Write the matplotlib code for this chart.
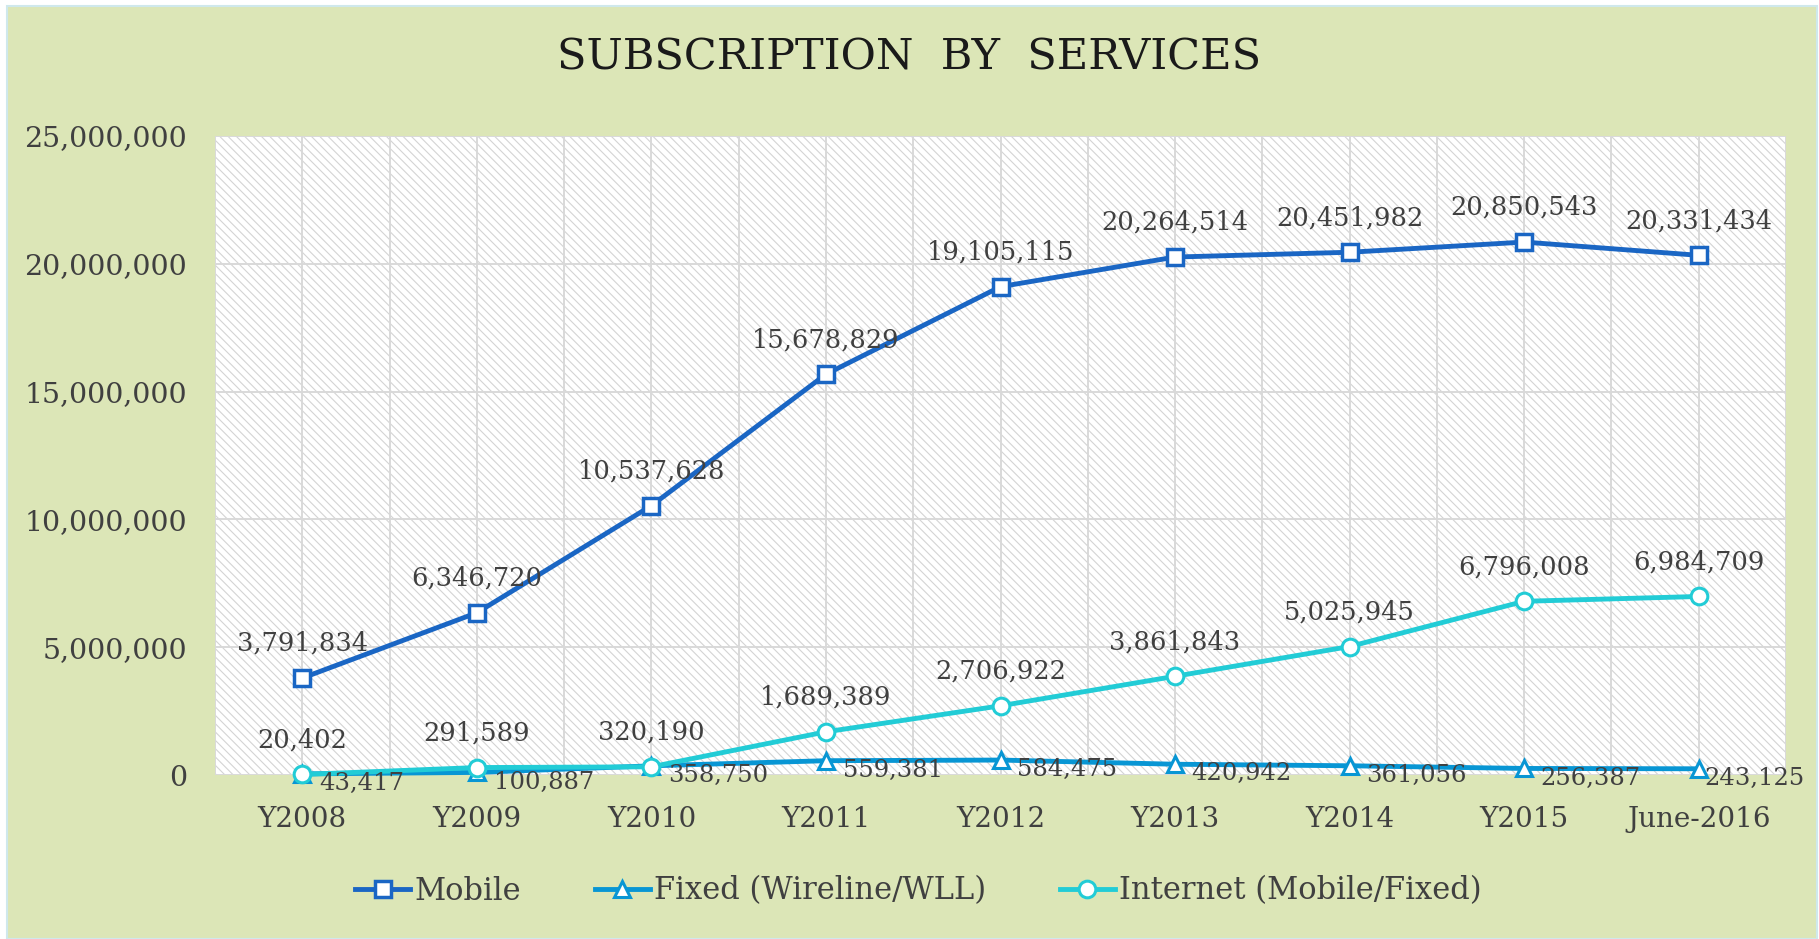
import matplotlib.pyplot as plt
import matplotlib.patches as mpatches
import numpy as np

# data
categories = ["Y2008", "Y2009", "Y2010", "Y2011", "Y2012", "Y2013", "Y2014", "Y2015", "June-2016"]
mobile = [3791834, 6346720, 10537628, 15678829, 19105115, 20264514, 20451982, 20850543, 20331434]
fixed = [43417, 100887, 358750, 559381, 584475, 420942, 361056, 256387, 243125]
internet = [20402, 291589, 320190, 1689389, 2706922, 3861843, 5025945, 6796008, 6984709]
yticks = [0, 5000000, 10000000, 15000000, 20000000, 25000000]

bg = "#dce6b7"
c_mobile = "#1a66c4"
c_fixed = "#0896d4"
c_internet = "#22ccd6"
txt = "#404040"

plt.rcParams['font.family'] = ['DejaVu Serif']
plt.rcParams['hatch.color'] = '#d4d4d4'
plt.rcParams['hatch.linewidth'] = 0.8
plt.rcParams['xtick.major.pad'] = 22
plt.rcParams['ytick.major.pad'] = 20
plt.rcParams['xtick.major.size'] = 0
plt.rcParams['ytick.major.size'] = 0

fig = plt.figure(figsize=(18.19, 9.39), dpi=100)
fig.patch.set_facecolor("white")
fig.patches.append(mpatches.Rectangle((0.004, 0.0), 0.995, 0.994, transform=fig.transFigure,
                                      facecolor=bg, edgecolor="#cfe8ec", linewidth=1.5, zorder=-10))

ax = fig.add_axes([215 / 1819, 1 - 775 / 939, (1786 - 215) / 1819, (775 - 136) / 939])
ax.set_facecolor("white")
ax.add_patch(mpatches.Rectangle((0, 0), 1, 1, transform=ax.transAxes, facecolor="white",
                                edgecolor="#d4d4d4", hatch="\\\\\\\\", linewidth=0, zorder=0))

x = np.arange(len(categories))
ax.set_xlim(-0.5, len(categories) - 0.5)
ax.set_ylim(0, 25000000)

for gx in np.arange(-0.5, len(categories), 0.5):
    ax.axvline(gx, color="#d9d9d9", linewidth=1.4, zorder=1)
for gy in yticks:
    ax.axhline(gy, color="#d9d9d9", linewidth=1.4, zorder=1)

ax.plot(x, fixed, color=c_fixed, linewidth=3.5, marker="^", markersize=11,
        markerfacecolor="white", markeredgecolor=c_fixed, markeredgewidth=2.2,
        label="Fixed (Wireline/WLL)", zorder=3, clip_on=False)
ax.plot(x, internet, color=c_internet, linewidth=3.5, marker="o", markersize=12,
        markerfacecolor="white", markeredgecolor=c_internet, markeredgewidth=2.2,
        label="Internet (Mobile/Fixed)", zorder=4, clip_on=False)
ax.plot(x, mobile, color=c_mobile, linewidth=3.5, marker="s", markersize=12,
        markerfacecolor="white", markeredgecolor=c_mobile, markeredgewidth=2.5,
        label="Mobile", zorder=5, clip_on=False)

for i in range(len(categories)):
    ax.annotate(f"{mobile[i]:,}", (x[i], mobile[i]), xytext=(0, 16), textcoords="offset points",
                ha="center", va="bottom", fontsize=18.5, color=txt, zorder=6)
    ax.annotate(f"{internet[i]:,}", (x[i], internet[i]), xytext=(0, 16), textcoords="offset points",
                ha="center", va="bottom", fontsize=18.5, color=txt, zorder=6)
    # last label pushed back inside the chart, as the original does
    dx = 12 if i < len(categories) - 1 else 4
    ax.annotate(f"{fixed[i]:,}", (x[i], fixed[i]), xytext=(dx, -7), textcoords="offset points",
                ha="left", va="center", fontsize=17.5, color=txt, zorder=6, annotation_clip=False)

ax.set_xticks(x)
ax.set_xticklabels(categories, fontsize=20, color=txt)
ax.set_yticks(yticks)
ax.set_yticklabels([f"{v:,}" for v in yticks], fontsize=20.5, color=txt)
for s in ax.spines.values():
    s.set_visible(False)

fig.text(0.5, 1 - 58 / 939, "SUBSCRIPTION  BY  SERVICES", ha="center", va="center",
         fontsize=31, color="#1a1a1a")

handles, labels = ax.get_legend_handles_labels()
order = [2, 0, 1]
fig.legend([handles[k] for k in order], [labels[k] for k in order], loc="center",
           bbox_to_anchor=(0.505, 1 - 891 / 939), ncol=3, frameon=False, fontsize=22,
           handlelength=1.8, handletextpad=0.15, columnspacing=2.4, labelcolor=txt)

fig.savefig("out.png", dpi=100, facecolor=fig.get_facecolor())
